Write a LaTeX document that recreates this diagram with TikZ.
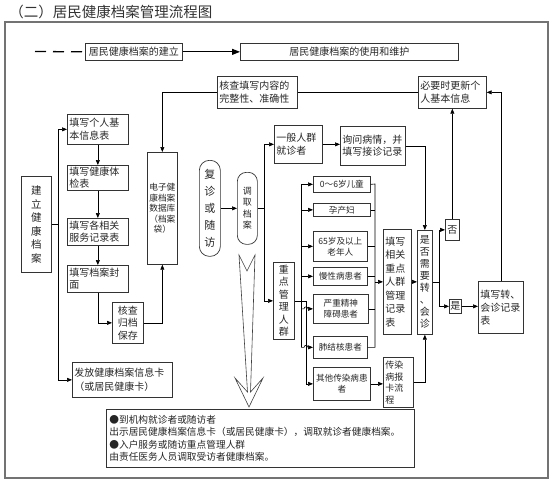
\documentclass[tikz,border=0pt]{standalone}
\usepackage{fontspec}
\setmainfont{Noto Sans CJK SC}
\usetikzlibrary{arrows.meta,calc}
\begin{document}
\begin{tikzpicture}[x=1pt,y=-1pt,line width=0.6pt,
  box/.style={draw=black!80, line width=0.7pt, inner sep=0pt, text=black!85, anchor=north west, font=\fontsize{10}{12.5}\selectfont},
  lbox/.style={box, align=left, inner xsep=2pt, text width=#1},
  cbox/.style={box, align=center},
  arr/.style={-{Triangle[length=5pt,width=4pt]}},
  cat/.style={cbox, font=\fontsize{8.6}{11}\selectfont}
  ]
\useasboundingbox (0,0) rectangle (554,485);
% title and frame
\node[anchor=west, font=\fontsize{14.5}{16}\selectfont, text=black!80, inner sep=0pt] (title) at (9,12) {（二）居民健康档案管理流程图};
\draw[draw=black!55, line width=1.3pt] (5,22) rectangle (548,478);
% top row
\node[cbox, minimum width=97pt, minimum height=17pt] (jl) at (85,43) {居民健康档案的建立};
\node[cbox, minimum width=218pt, minimum height=17pt] (sy) at (240,43) {居民健康档案的使用和维护};
\coordinate (ds) at (35,51.5);
\draw[line width=1.3pt, dash pattern=on 11pt off 7pt] (ds) -- (jl.west);
\draw[line width=1pt, -{Triangle[length=8pt,width=6pt]}] (jl.east) -- (sy.west);
% upper boxes
\node[lbox=76pt, minimum height=32pt] (hc) at (217,76) {核查填写内容的\\完整性、准确性};
\node[lbox=64pt, minimum height=32pt] (bx) at (418,76) {必要时更新个\\人基本信息};
\node[cbox, minimum width=30pt, minimum height=112pt, font=\fontsize{8.7}{10.5}\selectfont] (dz) at (147,152) {电子健\\康档案\\数据库\\（档案\\袋）};
\node[cbox, rounded corners=10pt, minimum width=21pt, minimum height=96pt, font=\fontsize{11}{17}\selectfont] (fz) at (199,160) {复\\诊\\或\\随\\访};
\node[cbox, rounded corners=9pt, minimum width=20pt, minimum height=72pt, font=\fontsize{9}{11.5}\selectfont] (dq) at (237,172) {调\\取\\档\\案};
\node[lbox=44pt, minimum height=38pt] (yb) at (274,125) {一般人群\\就诊者};
\node[lbox=61pt, minimum height=39pt] (xw) at (340,126) {询问病情，并\\填写接诊记录};
\node[cbox, minimum width=21pt, minimum height=77pt] (zd) at (273,262) {重\\点\\管\\理\\人\\群};
% categories
\node[cat, minimum width=57pt, minimum height=16pt] (et) at (313,176) {0～6岁儿童};
\node[cat, minimum width=57pt, minimum height=13pt] (yc) at (313,203) {孕产妇};
\node[cat, minimum width=54pt, minimum height=30pt] (ln) at (313,231) {65岁及以上\\老年人};
\node[cat, minimum width=54pt, minimum height=18pt] (mx) at (313,267) {慢性病患者};
\node[cat, minimum width=55pt, minimum height=29pt] (yz) at (313,294) {严重精神\\障碍患者};
\node[cat, minimum width=54pt, minimum height=22pt] (fj) at (313,336) {肺结核患者};
\node[cat, minimum width=57pt, minimum height=33pt] (qt) at (313,367) {其他传染病患\\者};
% right part
\node[lbox=24pt, minimum height=105pt, font=\fontsize{10}{13.5}\selectfont] (tx) at (383,229) {填写\\相关\\重点\\人群\\管理\\记录\\表};
\node[cbox, minimum width=15pt, minimum height=104pt, font=\fontsize{10}{12}\selectfont] (sf) at (417,230) {是\\否\\需\\要\\转\\、\\会\\诊};
\node[cbox, minimum width=14pt, minimum height=21pt] (fou) at (445,219) {否};
\node[cbox, minimum width=12pt, minimum height=14pt] (shi) at (449,299) {是};
\node[lbox=41pt, minimum height=52pt, font=\fontsize{10}{13}\selectfont] (zh) at (478,281) {填写转、\\会诊记录\\表};
\node[lbox=26pt, minimum height=50pt, font=\fontsize{9}{11.5}\selectfont] (cr) at (383,357) {传染\\病报\\卡流\\程};
% left part
\node[cbox, minimum width=30pt, minimum height=96pt, font=\fontsize{10.5}{13.5}\selectfont] (jd) at (21,176) {建\\立\\健\\康\\档\\案};
\node[lbox=57pt, minimum height=30pt] (n1) at (67,114) {填写个人基\\本信息表};
\node[lbox=57pt, minimum height=25pt] (n2) at (67,165) {填写健康体\\检表};
\node[lbox=57pt, minimum height=27pt] (n3) at (67,218) {填写各相关\\服务记录表};
\node[lbox=57pt, minimum height=27pt] (n4) at (67,265) {填写档案封\\面};
\node[cbox, minimum width=31pt, minimum height=41pt] (hg) at (112,302) {核查\\归档\\保存};
\node[lbox=96pt, minimum height=35pt, font=\fontsize{10}{14}\selectfont] (ff) at (72,362) {发放健康档案信息卡\\（或居民健康卡）};
\node[box, align=left, inner xsep=3pt, text width=302pt, minimum height=58pt, font=\fontsize{9.7}{12.5}\selectfont] (bt) at (106,409) {●到机构就诊者或随访者\\出示居民健康档案信息卡（或居民健康卡），调取就诊者健康档案。\\●入户服务或随访重点管理人群\\由责任医务人员调取受访者健康档案。};
% hollow arrow
\draw[draw=black!75, fill=white] (239,255) -- (247,271) -- (255,255) -- (250.5,392) -- (263,378) -- (249,407) -- (235,378) -- (247.5,392) -- cycle;
% connectors upper
\draw (bx.west) -- (hc.east);
\draw[arr] (hc.west) -| (dz.north);
\draw[arr] (zh.north) |- (bx.east);
\draw[arr] (fou.north) -- (fou.north |- bx.south);
\coordinate (sj) at ($(sf.east)+(7,0)$);
\draw (sf.east) -- (sj);
\draw[arr] (sj) |- (fou.west);
\draw[arr] (sj) |- (shi.west);
\draw[arr] (shi.east) -- (shi.east -| zh.west);
\draw[arr] (xw.east) -| (sf.north);
\draw[arr] (yb.east) -- (yb.east -| xw.west);
\draw[arr] (fz.east) -- (dq.west);
\coordinate (dj) at ($(dq.east)+(7,0)$);
\draw (dq.east) -- (dj);
\draw[arr] (dj) |- (yb.west);
\draw[arr] (dj) |- (zd.west);
% branches to categories
\coordinate (bA) at (301,184);
\coordinate (bB) at ($(zd.east)+(12,0)$);
\draw (zd.east) -- (bB);
\draw[arr] (bB) |- (qt.west);
\draw (bA |- et.west) -- (bA |- fj.west);
\draw[arr] (bA |- et.west) -- (et.west);
\draw[arr] (bA |- yc.west) -- (yc.west);
\draw[arr] (bA |- ln.west) -- (ln.west);
\draw[arr] (bA |- mx.west) -- (mx.west);
\draw[arr] (bA |- yz.west) -- ++(3,0) arc[start angle=180,end angle=0,radius=2pt] -- (yz.west);
\draw[arr] (bA |- fj.west) -- ++(3,0) arc[start angle=180,end angle=0,radius=2pt] -- (fj.west);
% collector
\coordinate (cR) at (375,184);
\draw (et.east) -- (cR) -- (cR |- fj.east) -- (fj.east);
\draw (yc.east) -- (cR |- yc.east);
\draw (ln.east) -- (cR |- ln.east);
\draw (mx.east) -- (cR |- mx.east);
\draw (yz.east) -- (cR |- yz.east);
\draw[arr] (cR |- tx.west) -- (tx.west);
\draw[arr] (tx.east) -- (tx.east -| sf.west);
\draw[arr] (qt.east) -- (qt.east -| cr.west);
\draw[arr] (cr.east) -| (sf.south);
% left connectors
\coordinate (lj) at ($(jd.east)+(7,0)$);
\draw (jd.east) -- (lj);
\draw[arr] (lj) |- (n1.west);
\draw[arr] (lj) |- (ff.west);
\draw[arr] (n1.south) -- (n2.north);
\draw[arr] (n2.south) -- (n3.north);
\draw[arr] (n3.south) -- (n4.north);
\draw[arr] (n4.south) |- (hg.west);
\draw[arr] (hg.east) -| (dz.south);
\end{tikzpicture}
\end{document}
